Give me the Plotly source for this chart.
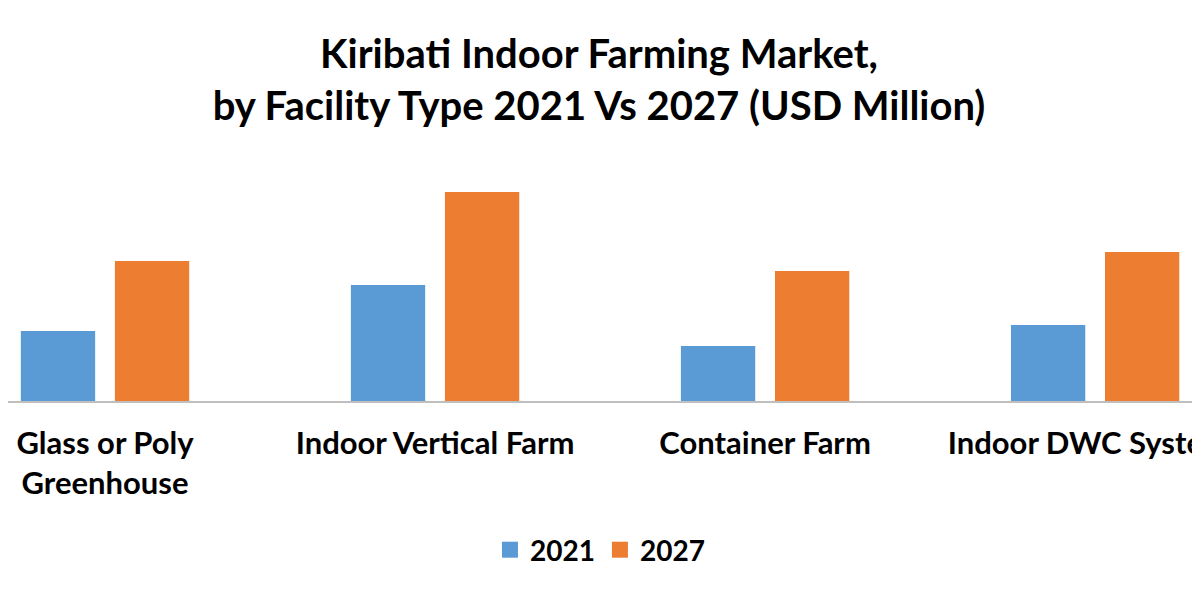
import plotly.graph_objects as go

categories = ["Glass or Poly<br>Greenhouse", "Indoor Vertical Farm", "Container Farm", "Indoor DWC Systems"]
series_names = ["2021", "2027"]
values_2021 = [7.0, 11.6, 5.5, 7.6]
values_2027 = [14.0, 20.9, 13.0, 14.9]
colors = ["#5B9BD5", "#ED7D31"]

FONT = "Lato"

fig = go.Figure()
for name, vals, col in zip(series_names, [values_2021, values_2027], colors):
    fig.add_trace(go.Bar(x=categories, y=vals, name=name, marker=dict(color=col, line=dict(width=0)),
                         showlegend=False))
    fig.add_trace(go.Scatter(x=[None], y=[None], mode="markers", name=name,
                             marker=dict(symbol="square", size=16, color=col)))

fig.update_layout(
    width=1200, height=600,
    paper_bgcolor="white", plot_bgcolor="white",
    margin=dict(l=0, r=0, t=142, b=207, autoexpand=False),
    barmode="group", bargap=0.43, bargroupgap=0.21,
    title=dict(text="<b>Kiribati Indoor Farming Market,<br>by Facility Type 2021 Vs 2027 (USD Million)</b>",
               x=0.4925, xanchor="center", xref="paper", y=0.9, yanchor="top", yref="container",
               font=dict(family=FONT, size=40, color="#000000")),
    xaxis=dict(range=[-0.294, 3.342], showgrid=False, zeroline=False, automargin=False,
               showline=True, linecolor="#BFBFBF", linewidth=1.5,
               ticks="", tickfont=dict(family=FONT, size=31, color="#000000", weight="bold"),
               ticklabelstandoff=14),
    yaxis=dict(range=[0, 25.1], visible=False),
    legend=dict(orientation="h", x=0.4933, xanchor="center", xref="paper",
                y=58 / 600, yanchor="middle", yref="container",
                font=dict(family=FONT, size=28, color="#000000", weight="bold"),
                itemwidth=30, tracegroupgap=0),
    font=dict(family=FONT),
)

fig.write_html("out.html")
